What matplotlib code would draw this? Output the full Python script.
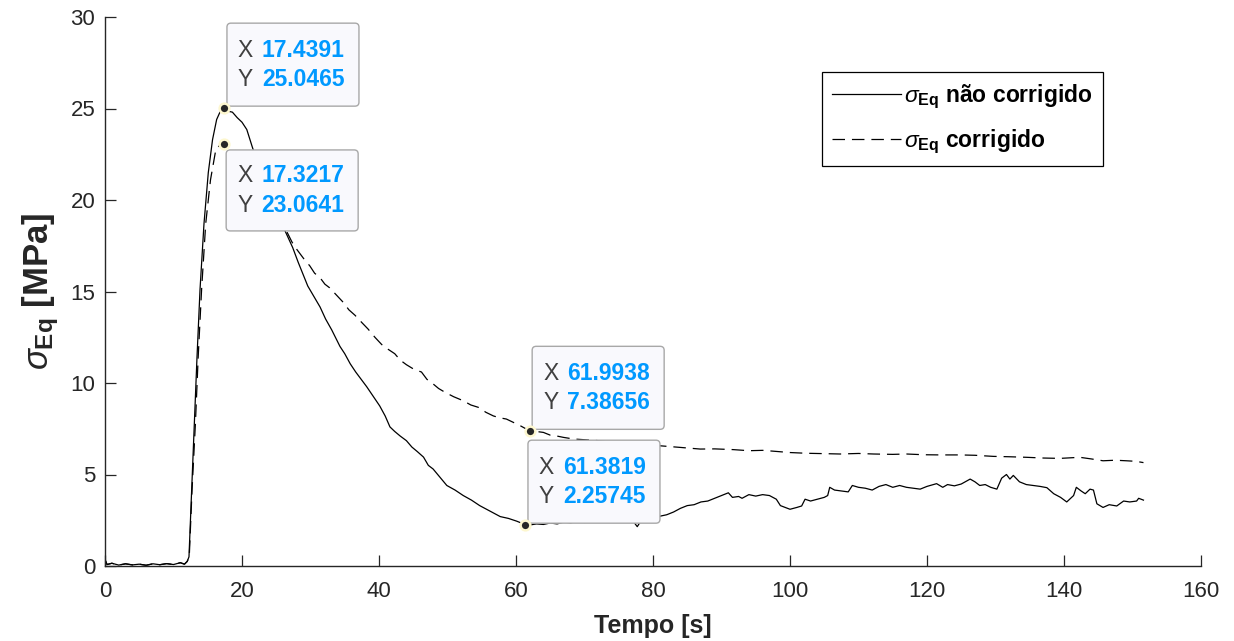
import matplotlib
matplotlib.use("Agg")
import matplotlib.pyplot as plt
import matplotlib.transforms as mtransforms
from matplotlib.patches import FancyBboxPatch

# ---------------- data ----------------
t_nc = [0, 0.3, 1, 2, 3, 4, 5, 6, 7, 8, 9, 10, 11, 11.6, 12.0,
        12.26, 12.65, 13.04, 13.43, 13.87, 14.45, 15.08, 15.7, 16.3, 16.9, 17.4391,
        18.0, 18.6, 19.3, 20.0, 20.7, 21.5, 22.3, 23.2, 24.2, 25.2, 26.3, 27.4, 28.2,
        28.95, 29.6, 30.3, 31.4, 32.2, 33.1, 33.7, 34.3, 35.0, 35.8, 36.6, 37.4, 38.2,
        39.1, 40.1, 40.9, 41.6, 42.3, 43.1, 44.0, 44.8, 45.6, 46.5, 47.2, 47.9, 48.9,
        49.9, 51.1, 52.3, 53.5, 54.7, 56.2, 57.7, 58.9, 60.1, 61.3819,
        62, 63, 64, 65, 66, 67, 68, 69, 70, 71, 72, 73, 74, 75, 76, 77, 77.7, 78.3,
        79, 80, 81, 82, 83, 84, 85, 86, 87, 88, 89, 90, 91, 91.6, 92.5, 93, 94, 95,
        96, 97, 98, 98.6, 99.3, 100, 101, 101.7, 102.2, 103, 104, 105, 105.5, 105.8,
        106.5, 107.5, 108.5, 109.1, 110, 111, 112, 113, 114, 115, 116, 117, 118, 119,
        120, 121.4, 122.3, 123, 124, 125, 126.3, 127, 127.7, 128.5, 129.3, 130.2,
        130.9, 131.6, 132.1, 132.6, 133.5, 134.5, 135.5, 136.5, 137.5, 138.5, 139.5,
        140.4, 141.4, 141.8, 142.5, 143.1, 143.8, 144.3, 144.8, 145.7, 146.6, 147.7,
        148.7, 149.6, 150.6, 150.9, 151.6]
y_nc = [0.35, 0.08, 0.15, 0.05, 0.12, 0.06, 0.10, 0.04, 0.12, 0.07, 0.13, 0.08, 0.18, 0.10, 0.25,
        0.5, 4.15, 7.8, 11.4, 15.1, 18.7, 21.5, 23.3, 24.4, 24.9, 25.0465,
        24.85, 24.8, 24.5, 24.25, 23.85, 22.9, 22.0, 20.95, 19.95, 19.0, 18.3, 17.4, 16.6,
        15.9, 15.3, 14.85, 14.15, 13.5, 12.9, 12.45, 12.0, 11.6, 11.05, 10.6, 10.2, 9.8,
        9.3, 8.75, 8.2, 7.6, 7.35, 7.1, 6.85, 6.5, 6.25, 5.95, 5.5, 5.3, 4.85,
        4.4, 4.15, 3.85, 3.6, 3.3, 3.0, 2.7, 2.6, 2.45, 2.25745,
        2.24, 2.30, 2.27, 2.35, 2.30, 2.40, 2.36, 2.45, 2.38, 2.42, 2.50, 2.44, 2.50, 2.47, 2.55, 2.50, 2.15, 2.50,
        2.48, 2.60, 2.72, 2.80, 2.95, 3.15, 3.30, 3.35, 3.50, 3.55, 3.70, 3.85, 4.00, 3.75, 3.80, 3.70, 3.90, 3.82,
        3.90, 3.85, 3.65, 3.30, 3.20, 3.10, 3.20, 3.28, 3.65, 3.55, 3.65, 3.75, 3.85, 4.30,
        4.15, 4.10, 4.05, 4.40, 4.30, 4.25, 4.15, 4.35, 4.45, 4.30, 4.40, 4.30, 4.25, 4.20,
        4.35, 4.50, 4.30, 4.45, 4.38, 4.48, 4.75, 4.60, 4.40, 4.45, 4.30, 4.20,
        4.80, 5.00, 4.75, 4.95, 4.60, 4.45, 4.40, 4.35, 4.28, 3.95, 3.75,
        3.50, 3.85, 4.30, 4.10, 3.95, 4.20, 4.15, 3.40, 3.20, 3.35, 3.28,
        3.55, 3.50, 3.55, 3.70, 3.60]

t_c = [0, 0.3, 1, 2, 3, 4, 5, 6, 7, 8, 9, 10, 11, 11.6, 12.0,
       12.3, 12.7, 13.2, 13.6, 14.1, 14.7, 15.4, 16.2, 16.8, 17.3217,
       18.5, 19.5, 20.5, 21.5, 22.5, 23.5, 24.5, 25.5, 26.5, 27.3, 28.0, 29.0, 29.9,
       30.6, 31.4, 32.1, 32.8, 33.8, 34.8, 35.6, 36.5, 37.5, 38.4, 39.4, 40.4, 41.3,
       42.3, 43.1, 44.0, 45.1, 46.2, 47.0, 47.9, 48.7, 49.6, 50.9, 52.3, 53.4, 54.5,
       55.6, 56.7, 57.6, 58.6, 59.6, 60.6, 61.9938,
       63, 64, 65, 66, 66.9, 68.4, 70, 72, 74, 76, 78, 80, 82, 84, 86.9, 89, 91.7,
       94, 96, 97.7, 100, 102.4, 105, 107.3, 110, 112.2, 115, 117, 119.5, 121.9,
       124.8, 127, 129.7, 132, 134.5, 137, 139.4, 142.3, 144, 145.7, 147.5, 149.1,
       150.5, 151.6]
y_c = [0.35, 0.08, 0.15, 0.05, 0.12, 0.06, 0.10, 0.04, 0.12, 0.07, 0.13, 0.08, 0.18, 0.10, 0.25,
       0.5, 4.1, 7.8, 11.4, 15.1, 18.7, 21.1, 22.8, 23.0, 23.0641,
       22.9, 22.5, 22.0, 21.4, 20.8, 20.1, 19.5, 18.9, 18.3, 17.7, 17.3, 16.8, 16.4,
       16.0, 15.75, 15.4, 15.2, 14.8, 14.4, 14.0, 13.7, 13.3, 12.95, 12.5, 12.1, 11.85,
       11.6, 11.25, 11.0, 10.75, 10.6, 10.2, 9.95, 9.7, 9.5, 9.25, 9.03, 8.8, 8.67,
       8.4, 8.2, 8.1, 8.03, 7.85, 7.67, 7.38656,
       7.35, 7.3, 7.15, 7.1, 7.03, 6.94, 6.9, 6.85, 6.75, 6.72, 6.65, 6.6, 6.54, 6.48, 6.39, 6.4, 6.36,
       6.3, 6.32, 6.27, 6.2, 6.16, 6.14, 6.12, 6.15, 6.12, 6.1, 6.12, 6.08, 6.07,
       6.07, 6.05, 5.99, 5.97, 5.94, 5.9, 5.88, 5.94, 5.85, 5.75, 5.78, 5.75,
       5.72, 5.65]

assert len(t_nc) == len(y_nc) and len(t_c) == len(y_c)

# datatips
tips_x = [17.4391, 17.3217, 61.9938, 61.3819]
tips_y = [25.0465, 23.0641, 7.38656, 2.25745]
tips_below = [False, True, False, False]

x_ticks = [0, 20, 40, 60, 80, 100, 120, 140, 160]
y_ticks = [0, 5, 10, 15, 20, 25, 30]

# ---------------- style ----------------
plt.rcParams['font.family'] = ['Liberation Sans', 'DejaVu Sans']
plt.rcParams['mathtext.fontset'] = 'custom'
plt.rcParams['mathtext.rm'] = 'Liberation Sans'
plt.rcParams['mathtext.it'] = 'Liberation Sans:italic'
plt.rcParams['mathtext.bf'] = 'Liberation Sans:bold'
plt.rcParams['lines.scale_dashes'] = False

W, H = 1234, 641
fig = plt.figure(figsize=(W / 100, H / 100), dpi=100)
ax = fig.add_axes([105 / W, 1 - 566 / H, 1096 / W, 549 / H])

dark = '#262626'
ax.plot(t_nc, y_nc, color='black', lw=0.9, label=r'$\sigma_{\mathbf{Eq}}$ não corrigido', zorder=2)
ax.plot(t_c, y_c, color='black', lw=0.9, linestyle=(0, (9, 5)),
        label=r'$\sigma_{\mathbf{Eq}}$ corrigido', zorder=2)

ax.set_xlim(0, 160)
ax.set_ylim(0, 30)
ax.set_xticks(x_ticks)
ax.set_yticks(y_ticks)
for s in ['top', 'right']:
    ax.spines[s].set_visible(False)
for s in ['left', 'bottom']:
    ax.spines[s].set_color(dark)
    ax.spines[s].set_linewidth(1.0)
ax.tick_params(direction='in', length=8.2, width=0.9, color=dark, labelcolor=dark,
               labelsize=16)
ax.tick_params(axis='x', pad=11)
ax.tick_params(axis='y', pad=7)

ax.set_xlabel('Tempo [s]', fontsize=18, fontweight='bold', color=dark)
ax.xaxis.set_label_coords(0.5, -0.087)
ax.set_ylabel(r'$\sigma_{\mathbf{Eq}}$ [MPa]', fontsize=25, fontweight='bold', color=dark)
ax.yaxis.set_label_coords(-0.04, 0.5)

leg = ax.legend(loc='upper left', bbox_to_anchor=(822 / W, 1 - 72 / H),
                bbox_transform=fig.transFigure, borderaxespad=0,
                prop={'weight': 'bold', 'size': 16.5}, handlelength=3.0, handletextpad=0.15,
                labelspacing=0.72, borderpad=0.45, fancybox=False, framealpha=1,
                edgecolor='black')
leg.get_frame().set_linewidth(0.9)

# ---------------- datatips ----------------
blue = '#0099ff'
for x, y, below in zip(tips_x, tips_y, tips_below):
    tr = mtransforms.IdentityTransform() + mtransforms.ScaledTranslation(x, y, ax.transData)
    if below:
        bx0, by0, bw, bh = 2.5, -87, 132, 81
        ly1, ly2 = -32, -61.5
    else:
        bx0, by0, bw, bh = 2.5, 1.5, 132, 83
        ly1, ly2 = by0 + 56, by0 + 26.5
    box = FancyBboxPatch((bx0, by0), bw, bh, boxstyle='round,pad=0,rounding_size=4',
                         transform=tr, fc='#f9f9fd', ec='#a8a8a8', lw=1.0,
                         zorder=5, clip_on=False)
    ax.add_artist(box)
    for ly, lab, val in [(ly1, 'X', x), (ly2, 'Y', y)]:
        ax.text(bx0 + 11, ly, lab, transform=tr, ha='left', va='center',
                fontsize=16.5, color='#404040', zorder=6)
        ax.text(bx0 + 35, ly, f'{val:g}', transform=tr, ha='left', va='center',
                fontsize=16.5, color=blue, fontweight='bold', zorder=6)
    ax.plot([x], [y], 'o', ms=7, mfc=dark, mec='#fdf7cf', mew=1.8, zorder=7, clip_on=False)

fig.savefig('out.png', dpi=100)
